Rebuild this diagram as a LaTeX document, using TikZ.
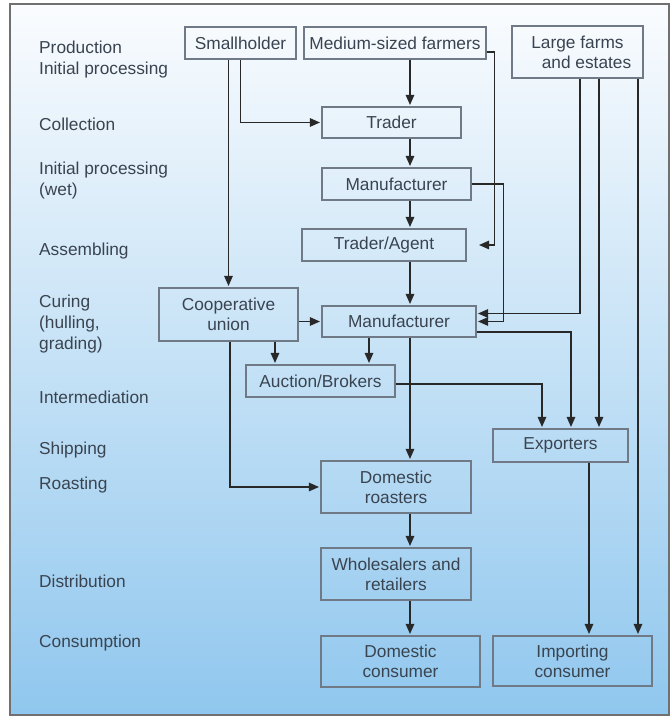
\documentclass[tikz,border=0pt]{standalone}
\usepackage{fontspec}
\setmainfont{Liberation Sans}
\usetikzlibrary{arrows.meta}
\definecolor{txtcol}{RGB}{58,68,80}
\definecolor{boxcol}{RGB}{112,122,134}
\definecolor{linecol}{RGB}{40,40,40}
\definecolor{framecol}{RGB}{112,112,112}
\definecolor{bgtop}{RGB}{250,252,254}
\definecolor{bgbot}{RGB}{144,199,238}
\begin{document}
\begin{tikzpicture}[x=1pt, y=-1pt,
    box/.style={draw=boxcol, line width=1.1pt, text=txtcol, inner sep=0pt, align=center, font=\fontsize{17.3}{20}\selectfont},
    stage/.style={anchor=west, text=txtcol, inner sep=0pt, align=left, font=\fontsize{17.3}{21}\selectfont},
    arr/.style={draw=linecol, line width=1.2pt, shorten >=1.5pt, -{Triangle[length=10pt,width=8.5pt]}}]
        \useasboundingbox (0,0) rectangle (670,717);
        \path[draw=framecol, line width=1.6pt, top color=bgtop, bottom color=bgbot] (10,4) rectangle (669,715);
        \coordinate (spine) at (410,0);

        \node[stage] (production) at (39,59.5) {Production\\Initial processing};
        \node[stage] (collection) at (39,124) {Collection};
        \node[stage] (wet) at (39,181) {Initial processing\\(wet)};
        \node[stage] (assembling) at (39,251) {Assembling};
        \node[stage] (curing) at (39,324) {Curing\\(hulling,\\grading)};
        \node[stage] (intermed) at (39,397) {Intermediation};
        \node[stage] (shipping) at (39,450) {Shipping};
        \node[stage] (roasting) at (39,485) {Roasting};
        \node[stage] (distribution) at (39,581) {Distribution};
        \node[stage] (consumption) at (39,643) {Consumption};

        \node[box, minimum width=111pt, minimum height=32pt] (small) at (240.5,43) {Smallholder};
        \node[box, minimum width=182pt, minimum height=32pt] (medium) at (395,43) {Medium-sized farmers};
        \node[box, minimum width=131pt, minimum height=52pt] (large) at (577.5,52) {Large farms\\\hspace*{18pt}and estates};
        \node[box, minimum width=139pt, minimum height=31pt] (trader) at (391.5,122.5) {Trader};
        \node[box, minimum width=149pt, minimum height=32pt] (manuA) at (396.5,184) {Manufacturer};
        \node[box, minimum width=164pt, minimum height=32pt] (agent) at (384,245) {Trader/Agent};
        \node[box, minimum width=139pt, minimum height=53pt] (coop) at (228.5,314.5) {Cooperative\\union};
        \node[box, minimum width=154pt, minimum height=31pt] (manuB) at (399,321.5) {Manufacturer};
        \node[box, minimum width=149pt, minimum height=32pt] (auction) at (320.5,381) {Auction/Brokers};
        \node[box, minimum width=135pt, minimum height=33pt] (export) at (560.5,445.5) {Exporters};
        \node[box, minimum width=150pt, minimum height=52pt] (roast) at (396,487) {Domestic\\roasters};
        \node[box, minimum width=150pt, minimum height=52pt] (whole) at (396,574) {Wholesalers and\\retailers};
        \node[box, minimum width=159pt, minimum height=51pt] (domcons) at (400.5,661.5) {Domestic\\consumer};
        \node[box, minimum width=159pt, minimum height=50pt] (impcons) at (572.5,661) {Importing\\consumer};

        \draw[arr] (coop.north |- small.south) -- (coop.north);
        \draw[arr] (small.south) |- (trader.west);
        \draw[arr] (medium.south -| spine) -- (trader.north -| spine);
        \draw[arr] ([yshift=-9pt]medium.east) -- ++(8,0) |- ([xshift=11pt]agent.east);
        \draw[arr] (trader.south -| spine) -- (manuA.north -| spine);
        \draw[arr] (manuA.south -| spine) -- (agent.north -| spine);
        \draw[arr] (agent.south -| spine) -- (manuB.north -| spine);
        \draw[arr] (manuA.east) -- ++(32,0) |- (manuB.east);
        \draw[arr] ([xshift=2.5pt]large.south) |- ([yshift=8pt]manuB.east);
        \draw[arr] ([xshift=21.5pt]large.south) -- ([xshift=38.5pt]export.north);
        \draw[arr] ([xshift=60.5pt]large.south) -- ([xshift=65.5pt]impcons.north);
        \draw[arr] (coop.east |- manuB.west) -- (manuB.west);
        \draw[arr] ([xshift=-45.5pt]auction.north |- coop.south) -- ([xshift=-45.5pt]auction.north);
        \draw[arr] ([xshift=48.5pt]auction.north |- manuB.south) -- ([xshift=48.5pt]auction.north);
        \draw[arr] ([yshift=-10.5pt]manuB.east) -| ([xshift=10.5pt]export.north);
        \draw[arr] ([yshift=-3pt]auction.east) -| ([xshift=-18.5pt]export.north);
        \draw[arr] (manuB.south -| spine) -- (roast.north -| spine);
        \draw[arr] ([xshift=1.5pt]coop.south) |- (roast.west);
        \draw[arr] (roast.south -| spine) -- (whole.north -| spine);
        \draw[arr] (whole.south -| spine) -- (domcons.north -| spine);
        \draw[arr] ([xshift=28.5pt]export.south) -- ([xshift=16.5pt]impcons.north);
\end{tikzpicture}
\end{document}
